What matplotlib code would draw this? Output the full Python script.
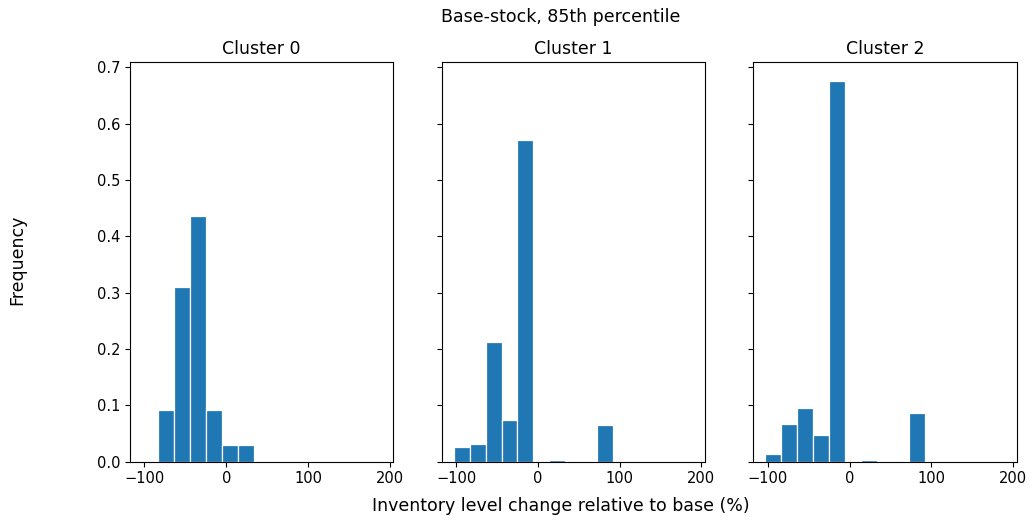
import numpy as np
import matplotlib
matplotlib.use("Agg")
import matplotlib.pyplot as plt

# histogram bins (inventory change, %)
bin_lo = -103.0
bin_hi = 189.5
n_bins = 15

clusters = ["Cluster 0", "Cluster 1", "Cluster 2"]

# relative frequency per bin
freq0 = [0.0, 0.092, 0.311, 0.437, 0.092, 0.030, 0.030, 0, 0, 0, 0, 0, 0, 0, 0]
freq1 = [0.027, 0.031, 0.213, 0.074, 0.571, 0.0, 0.004, 0.002, 0, 0.066, 0, 0, 0, 0, 0]
freq2 = [0.013, 0.067, 0.096, 0.047, 0.675, 0.0, 0.003, 0, 0, 0.086, 0, 0, 0, 0, 0]
freqs = [freq0, freq1, freq2]

edges = np.linspace(bin_lo, bin_hi, n_bins + 1)
centers = (edges[:-1] + edges[1:]) / 2

plt.rcParams["xtick.labelsize"] = 10.5
plt.rcParams["ytick.labelsize"] = 10.5

fig, axes = plt.subplots(1, 3, figsize=(10.32, 5.2), dpi=100, sharey=True)
fig.subplots_adjust(left=0.126, right=0.985, top=0.88, bottom=0.112, wspace=0.185)

for ax, name, fr in zip(axes, clusters, freqs):
    ax.hist(centers, bins=edges, weights=fr, color="#1f77b4", edgecolor="white", linewidth=0.9)
    ax.set_title(name, fontsize=12.5)
    ax.set_xticks([-100, 0, 100, 200])

fig.suptitle("Base-stock, 85th percentile", fontsize=12.5, x=0.543, y=0.985)
fig.supxlabel("Inventory level change relative to base (%)", fontsize=12.5, x=0.543, y=0.01)
fig.supylabel("Frequency", fontsize=12.5, x=0.008)

fig.savefig("out.png")
